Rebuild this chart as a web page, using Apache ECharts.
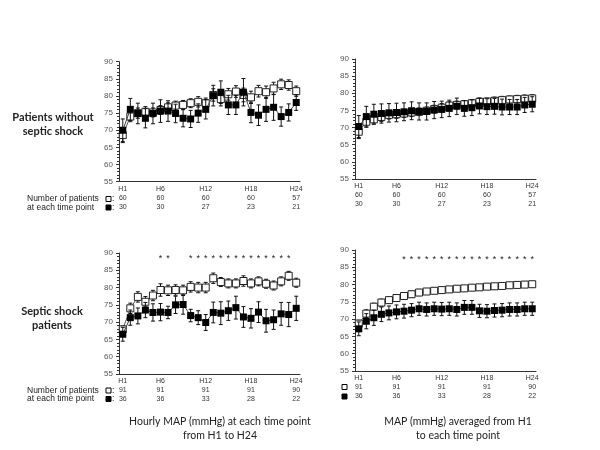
<!DOCTYPE html>
<html><head><meta charset="utf-8">
<script src="https://cdn.jsdelivr.net/npm/echarts@6/dist/echarts.min.js"></script>
<style>html,body{margin:0;padding:0;background:#fff}#c{width:600px;height:450px}</style>
</head><body><div id="c"></div>
<script>
// ---------- data ----------
const hours = ['H1','H2','H3','H4','H5','H6','H7','H8','H9','H10','H11','H12','H13','H14','H15','H16','H17','H18','H19','H20','H21','H22','H23','H24'];
const shownHourIdx = [0, 5, 11, 17, 23];

const noShockOpenN   = [60, 60, 60, 60, 57];
const noShockFilledN = [30, 30, 27, 23, 21];
const shockOpenN     = [91, 91, 91, 91, 90];
const shockFilledN   = [36, 36, 33, 28, 22];

// Patients without septic shock, hourly MAP
const noShockHourlyOpen   = [68.6,74.0,75.0,75.4,75.2,75.9,76.7,77.2,77.4,77.9,78.3,77.9,80.3,79.1,80.5,81.3,80.3,79.6,81.4,81.1,82.2,83.4,83.2,81.4];
const noShockHourlyOpenErr= [2.2,1.5,1.5,1.5,1.3,1.3,1.3,1.3,1.3,1.3,1.5,1.5,1.8,2.0,1.7,1.7,2.0,1.8,1.7,1.8,1.8,1.5,1.5,1.5];
const noShockHourlyFilled = [70.0,76.1,74.9,73.5,74.9,75.6,75.6,74.9,73.5,73.3,75.0,76.1,80.1,81.1,77.4,77.4,81.1,75.2,74.4,76.1,76.7,74.0,75.2,78.1];
const noShockHourlyFilledErr=[3.3,3.2,3.0,2.8,3.0,3.3,3.0,2.7,2.5,2.5,2.7,2.8,3.0,3.3,2.8,2.8,4.0,3.0,3.0,3.5,3.8,2.8,2.5,2.3];

// Patients without septic shock, averaged MAP
const noShockAvgOpen   = [68.8,71.7,72.4,73.1,73.7,73.9,74.1,74.4,74.6,74.9,75.4,75.8,76.4,76.6,76.8,77.1,77.5,77.6,77.8,78.0,78.2,78.3,78.4,78.5];
const noShockAvgOpenErr= [2.0,1.6,1.4,1.3,1.2,1.2,1.1,1.2,1.1,1.1,1.1,1.2,1.1,1.1,1.0,1.1,1.1,1.0,1.1,1.1,1.0,1.1,1.1,1.1];
const noShockAvgFilled = [70.3,73.2,73.9,74.1,74.3,74.4,74.6,74.9,74.7,74.7,75.1,75.3,75.6,76.2,75.6,75.8,76.3,76.1,76.2,76.0,76.0,76.0,76.6,76.8];
const noShockAvgFilledErr=[3.2,3.0,2.9,2.8,2.7,2.7,2.6,2.6,2.5,2.5,2.5,2.4,2.4,2.4,2.3,2.3,2.3,2.3,2.3,2.3,2.2,2.2,2.2,2.2];

// Septic shock patients, hourly MAP
const shockHourlyOpen   = [67.9,74.0,77.3,75.9,77.7,79.3,79.2,79.3,79.2,80.2,80.0,80.0,82.7,81.6,81.2,81.2,81.9,81.2,81.8,81.1,80.6,81.8,83.4,81.4];
const shockHourlyOpenErr= [1.0,1.5,1.5,1.5,1.5,1.8,1.5,1.5,1.5,1.5,1.5,1.5,1.5,1.3,1.3,1.3,1.5,1.3,1.3,1.3,1.3,1.3,1.3,1.3];
const shockHourlyFilled = [66.5,71.3,71.8,73.5,72.8,72.9,72.8,75.0,75.1,71.9,71.3,69.9,72.8,72.6,73.3,74.2,71.5,71.1,72.9,70.4,70.7,72.4,72.2,74.0];
const shockHourlyFilledErr=[2.0,2.2,2.3,2.2,2.5,2.5,1.8,2.5,2.8,1.8,2.0,2.3,3.0,3.3,2.8,3.3,3.0,2.8,3.0,3.3,2.8,3.3,3.5,3.5];
const shockHourlyStars  = [0,0,0,0,0,1,1,0,0,1,1,1,1,1,1,1,1,1,1,1,1,1,1,0];

// Septic shock patients, averaged MAP
const shockAvgOpen   = [68.7,71.6,73.6,74.8,75.5,76.1,76.7,77.2,77.7,78.0,78.2,78.4,78.6,78.8,78.9,79.1,79.2,79.4,79.5,79.6,79.8,79.9,80.0,80.1];
const shockAvgOpenErr= [1.0,1.1,1.0,1.0,0.9,0.9,0.9,0.9,0.9,0.8,0.8,0.8,0.8,0.8,0.8,0.8,0.8,0.8,0.8,0.8,0.8,0.8,0.8,0.8];
const shockAvgFilled = [67.2,69.4,70.4,71.4,71.8,72.1,72.3,72.6,73.0,72.8,73.0,72.9,73.0,72.8,73.4,73.4,72.4,72.3,72.5,72.6,72.8,72.8,73.0,73.0];
const shockAvgFilledErr=[2.0,2.2,2.2,2.1,2.0,2.0,2.0,1.9,1.9,1.9,1.9,1.9,1.9,1.9,2.0,2.0,1.9,1.9,1.9,1.9,1.9,1.9,1.9,1.9];
const shockAvgStars  = [0,0,0,0,0,0,1,1,1,1,1,1,1,1,1,1,1,1,1,1,1,1,1,1];

const yMin = 55, yMax = 90, yStep = 5;

// ---------- layout ----------
const grids = [
  {left:119, top:61.7, width:181, height:120},
  {left:355, top:59,   width:181, height:120},
  {left:119, top:253,  width:181, height:121},
  {left:355, top:250,  width:181, height:121}
];
const panels = [
  {open:noShockHourlyOpen, openErr:noShockHourlyOpenErr, filled:noShockHourlyFilled, filledErr:noShockHourlyFilledErr, oN:noShockOpenN, fN:noShockFilledN, stars:null, starDy:0},
  {open:noShockAvgOpen, openErr:noShockAvgOpenErr, filled:noShockAvgFilled, filledErr:noShockAvgFilledErr, oN:noShockOpenN, fN:noShockFilledN, stars:null, starDy:0},
  {open:shockHourlyOpen, openErr:shockHourlyOpenErr, filled:shockHourlyFilled, filledErr:shockHourlyFilledErr, oN:shockOpenN, fN:shockFilledN, stars:shockHourlyStars, starDy:5.5},
  {open:shockAvgOpen, openErr:shockAvgOpenErr, filled:shockAvgFilled, filledErr:shockAvgFilledErr, oN:shockOpenN, fN:shockFilledN, stars:shockAvgStars, starDy:9.5}
];

const axisCol = '#333';
const xAxes = [], yAxes = [], series = [];

function errSeries(gi, vals, errs, z) {
  return {
    type:'custom', xAxisIndex:gi, yAxisIndex:gi, z:z, silent:true,
    data: vals.map((v,i)=>[i, v, errs[i]]),
    encode:{x:0, y:1},
    renderItem:(params, api)=>{
      const i = api.value(0), m = api.value(1), e = api.value(2);
      const t = api.coord([i, m+e]), b = api.coord([i, m-e]);
      const st = {stroke:'#111', lineWidth:1};
      return {type:'group', children:[
        {type:'line', shape:{x1:t[0], y1:t[1], x2:b[0], y2:b[1]}, style:st},
        {type:'line', shape:{x1:t[0]-2, y1:t[1], x2:t[0]+2, y2:t[1]}, style:st},
        {type:'line', shape:{x1:b[0]-2, y1:b[1], x2:b[0]+2, y2:b[1]}, style:st}
      ]};
    }
  };
}

panels.forEach((p, gi) => {
  xAxes.push({
    type:'category', gridIndex:gi, data:hours, boundaryGap:true,
    axisLine:{lineStyle:{color:axisCol, width:1}},
    axisTick:{alignWithLabel:true, interval:0, length:3, lineStyle:{color:axisCol}},
    axisLabel:{
      interval:(idx)=>shownHourIdx.includes(idx),
      margin:2, color:'#333',
      formatter:(val, idx)=>{
        const k = shownHourIdx.indexOf(idx);
        return '{h|' + val + '}\n{n|' + p.oN[k] + '}\n{n|' + p.fN[k] + '}';
      },
      rich:{
        h:{fontSize:7, lineHeight:10, fontFamily:'Liberation Sans', color:'#333'},
        n:{fontSize:7, lineHeight:9, fontFamily:'Liberation Sans', color:'#333'}
      }
    },
    splitLine:{show:false}
  });
  yAxes.push({
    type:'value', gridIndex:gi, min:yMin, max:yMax, interval:yStep,
    axisLine:{show:true, lineStyle:{color:axisCol, width:1}},
    axisTick:{show:true, length:3, lineStyle:{color:axisCol}},
    minorTick:{show:true, splitNumber:5, length:2, lineStyle:{color:axisCol}},
    axisLabel:{fontSize:8, color:'#555', margin:6, fontFamily:'Liberation Sans'},
    splitLine:{show:false}
  });
  series.push(errSeries(gi, p.open, p.openErr, 1));
  series.push({
    type:'line', xAxisIndex:gi, yAxisIndex:gi, z:2, data:p.open,
    symbol:'rect', symbolSize:7, showAllSymbol:true,
    lineStyle:{color:'#555', width:1},
    itemStyle:{color:'#fff', borderColor:'#222', borderWidth:1},
    animation:false
  });
  series.push(errSeries(gi, p.filled, p.filledErr, 3));
  series.push({
    type:'line', xAxisIndex:gi, yAxisIndex:gi, z:4, data:p.filled,
    symbol:'rect', symbolSize:7, showAllSymbol:true,
    lineStyle:{color:'#444', width:1},
    itemStyle:{color:'#000', borderColor:'#000', borderWidth:0},
    animation:false
  });
  if (p.stars) {
    const dy = p.starDy;
    series.push({
      type:'custom', xAxisIndex:gi, yAxisIndex:gi, z:5, silent:true,
      data: p.stars.map((s,i)=>[i, yMax, s]).filter(d=>d[2]),
      encode:{x:0, y:1},
      renderItem:(params, api)=>{
        const c = api.coord([api.value(0), api.value(1)]);
        return {type:'text', x:c[0], y:c[1] + dy, style:{text:'*', fill:'#222', font:'9px Liberation Sans', align:'center', verticalAlign:'middle'}};
      }
    });
  }
});

const txt = (x, y, text, font, align) => ({type:'text', x:x, y:y, silent:true,
  style:{text:text, font:font, fill:'#222', align:align||'center', verticalAlign:'middle'}});
const box = (x, y, filled) => ({type:'rect', silent:true, shape:{x:x, y:y-2.5, width:5, height:5},
  style:{fill: filled ? '#000' : '#fff', stroke:'#000', lineWidth:1}});

const smallFont = '8.5px Liberation Sans';
const bold = 'bold 11px Lato';
const titleFont = '10.5px Lato';
const graphic = [
  txt(53, 117, 'Patients without', bold), txt(53, 131, 'septic shock', bold),
  txt(52, 311, 'Septic shock', bold), txt(52, 325, 'patients', bold),
  txt(27, 199, 'Number of patients', smallFont, 'left'), txt(27, 207.5, 'at each time point', smallFont, 'left'),
  box(106, 199, false), txt(112, 199, ':', smallFont, 'left'),
  box(106, 207.5, true), txt(112, 207.5, ':', smallFont, 'left'),
  txt(27, 390.5, 'Number of patients', smallFont, 'left'), txt(27, 399, 'at each time point', smallFont, 'left'),
  box(106, 390.5, false), txt(112, 390.5, ':', smallFont, 'left'),
  box(106, 399, true), txt(112, 399, ':', smallFont, 'left'),
  box(342, 387, false), box(342, 396.5, true),
  txt(220, 422, 'Hourly MAP (mmHg) at each time point', titleFont), txt(220, 436, 'from H1 to H24', titleFont),
  txt(458, 422, 'MAP (mmHg) averaged from H1', titleFont), txt(458, 436, 'to each time point', titleFont)
];

const chart = echarts.init(document.getElementById('c'), null, {renderer:'canvas'});
chart.setOption({
  animation:false,
  backgroundColor:'#fff',
  grid: grids,
  xAxis: xAxes,
  yAxis: yAxes,
  series: series,
  graphic: graphic
});
</script>
</body></html>
